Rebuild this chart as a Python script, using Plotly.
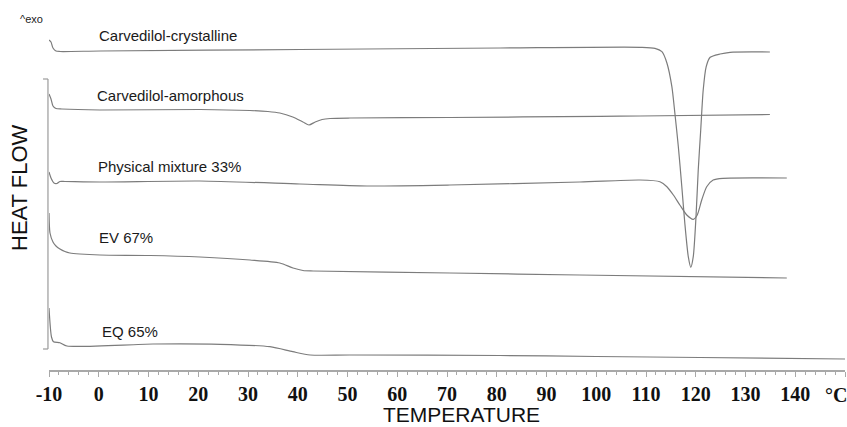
import plotly.graph_objects as go

# Temperature (°C) and heat flow (arbitrary units, exo up)
cryst_T = [-10.0, -9.6, -9.2, -8.6, -7.8, 0.3, 40.5, 80.7, 108.8, 111.8, 113.2, 114.2, 115.2, 115.8,
           116.5, 117.2, 117.8, 118.5, 119.0, 119.5, 120.05, 120.5, 121.0, 121.5, 122.1, 122.9,
           124.9, 126.9, 134.9]
cryst_H = [33.0, 32.8, 32.2, 31.9, 31.85, 31.9, 32.05, 32.2, 32.27, 32.17, 31.83, 30.7, 28.33, 25.7,
           22.33, 18.33, 14.7, 11.33, 10.27, 11.33, 15.33, 20.0, 24.0, 28.0, 30.33, 31.27,
           31.6, 31.77, 31.8]

amor_T = [-10.0, -9.6, -9.2, -8.6, -7.4, 0.25, 20.35, 30.4, 34.0, 36.4, 39.0, 41.05, 42.26, 43.5,
          44.9, 46.5, 50.5, 70.6, 100.75, 108.8, 134.9]
amor_H = [27.6, 27.1, 26.4, 26.15, 26.1, 26.0, 26.05, 25.95, 25.85, 25.7, 25.3, 24.8, 24.5, 24.8,
          25.05, 25.15, 25.2, 25.25, 25.37, 25.4, 25.55]

mix_T = [-10.0, -9.6, -9.0, -8.4, -7.8, -6.8, 0.25, 20.35, 40.45, 53.9, 70.6, 96.7, 108.8, 112.8,
         114.2, 115.5, 116.8, 118.2, 119.5, 120.3, 121.2, 122.2, 123.5, 125.5, 138.3]
mix_H = [19.8, 19.2, 18.7, 18.65, 18.85, 18.85, 18.8, 18.9, 18.6, 18.4, 18.5, 18.8, 19.0, 18.83,
         18.33, 17.5, 16.5, 15.5, 15.07, 15.5, 17.0, 18.33, 19.0, 19.17, 19.2]

ev_T = [-10.0, -9.8, -9.2, -8.6, -7.8, -6.8, -5.8, -3.8, 0.25, 10.3, 20.35, 30.4, 36.4, 39.05,
        41.05, 43.1, 70.6, 96.7, 138.3]
ev_H = [15.7, 13.7, 12.8, 12.4, 12.1, 11.85, 11.7, 11.6, 11.5, 11.45, 11.3, 11.0, 10.7, 10.2,
        9.95, 9.9, 9.7, 9.5, 9.2]

eq_T = [-10.0, -9.5, -9.1, -7.8, -6.4, 10.9, 24.4, 34.4, 39.0, 42.5, 50.5, 80.65, 100.0,
        120.85, 150.0]
eq_H = [6.2, 3.3, 2.83, 2.73, 2.4, 2.6, 2.57, 2.33, 1.83, 1.5, 1.5, 1.45, 1.35, 1.25, 1.1]

series = [
    ("Carvedilol-crystalline", cryst_T, cryst_H, -0.35, 33.5),
    ("Carvedilol-amorphous", amor_T, amor_H, -0.75, 27.5),
    ("Physical mixture 33%", mix_T, mix_H, -0.55, 20.4),
    ("EV 67%", ev_T, ev_H, -0.35, 13.3),
    ("EQ 65%", eq_T, eq_H, 0.25, 3.9),
]

tick_vals = [-10, 0, 10, 20, 30, 40, 50, 60, 70, 80, 90, 100, 110, 120, 130, 140, 150]
tick_text = ["-10", "0", "10", "20", "30", "40", "50", "60", "70", "80", "90", "100", "110",
             "120", "130", "140", ""]

# heat-flow scale bar (arbitrary units)
bar_low, bar_high = 2.1, 29.1

fig = go.Figure()
for name, t, h, lx, ly in series:
    fig.add_trace(go.Scatter(x=t, y=h, mode="lines", name=name, line_shape="spline",
                             line=dict(color="#7c7c7c", width=1.2, smoothing=0.7),
                             showlegend=False))
    fig.add_annotation(x=lx, y=ly, xref="x", yref="y", text=name, showarrow=False,
                       xanchor="left", yanchor="middle",
                       font=dict(family="Liberation Sans", size=15, color="#1a1a1a"))

# scale bar at the left
bx = -0.0013
fig.add_shape(type="line", xref="paper", yref="y", x0=bx, x1=bx, y0=bar_low, y1=bar_high,
              line=dict(color="#9a9a9a", width=1.2))
for yv in (bar_low, bar_high):
    fig.add_shape(type="line", xref="paper", yref="y", x0=-0.0075, x1=bx, y0=yv, y1=yv,
                  line=dict(color="#9a9a9a", width=1.2))

fig.add_annotation(xref="paper", yref="paper", x=-0.039, y=0.9486, text="^exo",
                   showarrow=False, xanchor="left", yanchor="middle",
                   font=dict(family="Liberation Sans", size=11, color="#222"))
fig.add_annotation(xref="paper", yref="paper", x=-0.0364, y=0.492, text="HEAT FLOW",
                   textangle=-90, showarrow=False, xanchor="center", yanchor="middle",
                   font=dict(family="Liberation Sans", size=22, color="#111"))
fig.add_annotation(xref="paper", yref="paper", x=0.5176, y=-0.119, text="TEMPERATURE",
                   showarrow=False, xanchor="center", yanchor="middle",
                   font=dict(family="Liberation Sans", size=21, color="#111"))
fig.add_annotation(xref="paper", yref="paper", x=0.9887, y=-0.0676, text="<b>°C</b>",
                   showarrow=False, xanchor="center", yanchor="middle",
                   font=dict(family="Liberation Serif", size=20, color="#111", weight="bold"))

fig.update_xaxes(range=[-10, 150], tickmode="array", tickvals=tick_vals,
                 ticktext=["<b>%s</b>" % s if s else "" for s in tick_text],
                 showline=True, linecolor="#a8a8a8", linewidth=1.5, showgrid=False,
                 zeroline=False, ticks="outside", ticklen=5, tickcolor="#a8a8a8", tickwidth=1,
                 tickfont=dict(family="Liberation Serif", size=20, color="#111", weight="bold"),
                 minor=dict(dtick=2, tick0=0, ticks="outside", ticklen=3, tickcolor="#a8a8a8",
                            showgrid=False))
fig.update_yaxes(range=[0, 37], visible=False, showgrid=False, zeroline=False)

fig.update_layout(width=847, height=427, margin=dict(l=49, r=2, t=0, b=57),
                  plot_bgcolor="white", paper_bgcolor="white")

fig.write_html("out.html")
